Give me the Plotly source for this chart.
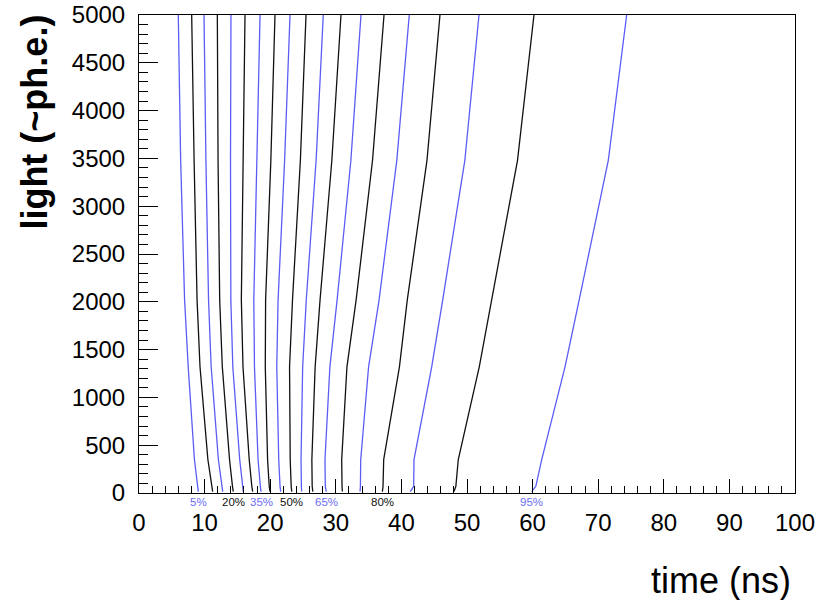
import plotly.graph_objects as go

# Light levels (~ph.e.) at which each time contour is sampled
light = [15, 70, 350, 1320, 2020, 3480, 5000]

# Fraction of collected light reached (5% ... 95%)
fractions = [5, 10, 15, 20, 25, 30, 35, 40, 45, 50, 55, 60, 65, 70, 75, 80, 85, 90, 95]

# Time (ns) at which each fraction is reached, one list per fraction, ordered as `light`
t05 = [9.04, 8.95, 8.45, 7.50, 6.95, 6.35, 5.99]
t10 = [11.23, 11.10, 10.50, 9.30, 8.85, 8.40, 8.03]
t15 = [12.76, 12.65, 12.10, 11.00, 10.60, 10.20, 9.91]
t20 = [14.37, 14.25, 13.80, 12.70, 12.30, 12.05, 11.94]
t25 = [15.90, 15.80, 15.35, 14.30, 14.00, 13.95, 14.02]
t30 = [17.33, 17.20, 16.80, 15.85, 15.60, 15.85, 16.16]
t35 = [18.60, 18.50, 18.15, 17.60, 17.50, 18.00, 18.45]
t40 = [19.97, 19.85, 19.60, 19.25, 19.30, 20.10, 20.73]
t45 = [21.60, 21.50, 21.30, 21.00, 21.20, 22.20, 23.02]
t50 = [23.28, 23.20, 23.05, 22.95, 23.40, 24.60, 25.46]
t55 = [24.80, 24.75, 24.70, 24.95, 25.50, 27.00, 28.09]
t60 = [26.50, 26.40, 26.35, 26.85, 27.60, 29.40, 30.79]
t65 = [28.55, 28.40, 28.35, 29.10, 30.20, 32.30, 33.84]
t70 = [31.00, 30.95, 30.90, 31.70, 33.10, 35.60, 37.35]
t75 = [33.70, 33.75, 33.80, 35.00, 36.60, 39.30, 41.20]
t80 = [37.10, 37.20, 37.30, 39.70, 40.90, 43.90, 45.88]
t85 = [41.36, 41.87, 41.92, 44.62, 46.30, 49.67, 51.83]
t90 = [48.02, 48.30, 48.67, 51.87, 53.76, 57.70, 60.21]
t95 = [59.86, 60.49, 61.39, 64.94, 67.10, 71.54, 74.34]

times = [t05, t10, t15, t20, t25, t30, t35, t40, t45, t50,
         t55, t60, t65, t70, t75, t80, t85, t90, t95]

# Fractions that get a percentage label under the axis
labelled = [5, 20, 35, 50, 65, 80, 95]

BLUE = "#5c5cf5"
BLACK = "#111111"
LABEL_BLUE = "#6c6cf4"
FONT = "Liberation Sans, Arial, sans-serif"

fig = go.Figure()

for frac, t in zip(fractions, times):
    colour = BLUE if frac % 10 == 5 else BLACK
    fig.add_trace(go.Scatter(
        x=t, y=light, mode="lines",
        line=dict(color=colour, width=1.3),
        name=f"{frac}%", showlegend=False,
        hoverinfo="skip",
    ))

annotations = []
for frac, t in zip(fractions, times):
    if frac in labelled:
        annotations.append(dict(
            x=t[0], y=-0.005, xref="x", yref="paper",
            text=f"{frac}%", showarrow=False, borderpad=0,
            font=dict(family=FONT, size=11.5,
                      color=LABEL_BLUE if frac % 10 == 5 else BLACK),
            xanchor="center", yanchor="top",
        ))

# Axis titles, aligned to the axis ends
annotations.append(dict(
    x=0.997, y=-0.184, xref="paper", yref="paper",
    text="time (ns)", showarrow=False,
    font=dict(family=FONT, size=36, color="black"),
    xanchor="right", yanchor="middle",
))
annotations.append(dict(
    x=-0.1585, y=1.004, xref="paper", yref="paper",
    text="<b>light (~ph.e.)</b>", showarrow=False, textangle=-90,
    font=dict(family=FONT, size=36, color="black"),
    xanchor="center", yanchor="top",
))

axis_font = dict(family=FONT, size=24, color="black")

fig.update_layout(
    width=827, height=600,
    margin=dict(l=139, r=32, t=15, b=107),
    paper_bgcolor="white", plot_bgcolor="white",
    annotations=annotations,
    xaxis=dict(
        range=[0, 100], dtick=10, tick0=0, automargin=False,
        showgrid=False, zeroline=False,
        showline=True, linecolor="black", linewidth=1, mirror=True,
        ticks="inside", ticklen=14, tickwidth=1, tickcolor="black",
        minor=dict(dtick=2, ticks="inside", ticklen=7, tickwidth=1, tickcolor="black"),
        tickfont=axis_font, ticklabelstandoff=8,
    ),
    yaxis=dict(
        range=[0, 5000], dtick=500, tick0=0, automargin=False,
        showgrid=False, zeroline=False,
        showline=True, linecolor="black", linewidth=1, mirror=True,
        ticks="inside", ticklen=19, tickwidth=1, tickcolor="black",
        minor=dict(dtick=100, ticks="inside", ticklen=9, tickwidth=1, tickcolor="black"),
        tickfont=axis_font, ticklabelstandoff=8,
    ),
)

fig.write_html("out.html")
